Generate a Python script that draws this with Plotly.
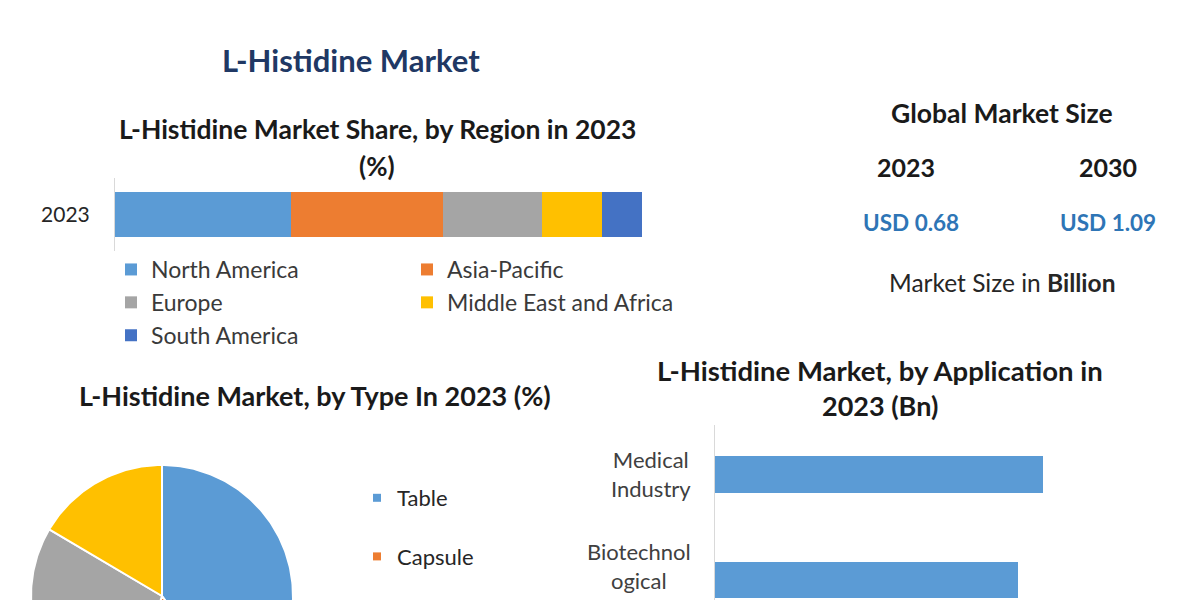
import math
import plotly.graph_objects as go

W, H = 1200, 600

# ---------------- data ----------------
region_year = ["2023"]
regions = ["North America", "Asia-Pacific", "Europe", "Middle East and Africa", "South America"]
region_share = [33.4, 28.8, 18.8, 11.4, 7.6]
region_colors = ["#5B9BD5", "#ED7D31", "#A5A5A5", "#FFC000", "#4472C4"]

types = ["Table", "Capsule", "Powder", "Others"]
type_share = [40.0, 15.0, 28.5, 16.5]
type_colors = ["#5B9BD5", "#ED7D31", "#A5A5A5", "#FFC000"]
type_legend_visible = [True, True, False, False]  # later entries fall below the crop

applications = ["Medical<br>Industry", "Biotechnol<br>ogical<br>Industry"]
app_values = [0.33, 0.305]

size_years = ["2023", "2030"]
size_values = [0.68, 1.09]


def px(x):
    return x / W


def py(y):
    return 1 - y / H


FONT = "Lato"
fig = go.Figure()

# ---------------- region stacked bar ----------------
for i, (name, val, col) in enumerate(zip(regions, region_share, region_colors)):
    fig.add_trace(go.Bar(
        y=region_year, x=[val], orientation="h", name=name,
        marker=dict(color=col, line=dict(width=0)),
        width=0.616,
        legend="legend" if i % 2 == 0 else "legend2",
        legendgroup=name,
        xaxis="x", yaxis="y", hoverinfo="x+name",
    ))

# ---------------- application bars ----------------
fig.add_trace(go.Bar(
    y=list(range(len(applications))), x=app_values, orientation="h",
    marker=dict(color="#5B9BD5", line=dict(width=0)),
    width=0.35, showlegend=False, xaxis="x2", yaxis="y2",
))

# ---------------- type pie (clipped by the page bottom) ----------------
R = 131
total = sum(type_share)
start = 90.0
for name, val, col in zip(types, type_share, type_colors):
    sweep = 360.0 * val / total
    n = max(8, int(sweep))
    xs, ys = [0.0], [0.0]
    for k in range(n + 1):
        a = math.radians(start - sweep * k / n)
        xs.append(R * math.cos(a))
        ys.append(R * math.sin(a))
    xs.append(0.0)
    ys.append(0.0)
    start -= sweep
    fig.add_trace(go.Scatter(
        x=xs, y=ys, mode="lines", fill="toself", fillcolor=col,
        line=dict(color="white", width=2), showlegend=False,
        legendgroup=name, name=name, xaxis="x3", yaxis="y3", hoverinfo="name",
    ))
for name, col, vis in zip(types, type_colors, type_legend_visible):
    if not vis:
        continue
    fig.add_trace(go.Scatter(
        x=[None], y=[None], mode="markers", name=name,
        marker=dict(symbol="square", size=8, color=col),
        legend="legend3", legendgroup=name, xaxis="x3", yaxis="y3",
    ))

hidden = dict(showgrid=False, zeroline=False, showticklabels=False, showline=False, ticks="")

fig.update_layout(
    width=W, height=H, autosize=False,
    margin=dict(l=0, r=0, t=0, b=0, pad=0),
    paper_bgcolor="white", plot_bgcolor="rgba(0,0,0,0)",
    font=dict(family=FONT, color="#262626"),
    barmode="stack",
    xaxis=dict(domain=[px(115), px(642)], range=[0, 100], **hidden),
    yaxis=dict(domain=[py(251), py(178)], type="category", showgrid=False, zeroline=False,
               showline=True, linecolor="#D9D9D9", linewidth=1, ticks="",
               ticklabelstandoff=20, tickfont=dict(size=21, color="#262626", family=FONT)),
    xaxis2=dict(domain=[px(715), px(1150)], range=[0, 435 / 993.9], anchor="y2", **hidden),
    yaxis2=dict(domain=[0, py(425)], range=[1.19, -0.469], anchor="x2",
                showgrid=False, zeroline=False, showticklabels=False, ticks="",
                showline=True, linecolor="#D9D9D9", linewidth=1),
    xaxis3=dict(domain=[0, px(360)], range=[-162, 198], anchor="y3", **hidden),
    yaxis3=dict(domain=[0, py(450)], range=[-4, 146], anchor="x3", **hidden),
    legend=dict(x=px(111), y=py(248), xanchor="left", yanchor="top", orientation="v",
                traceorder="grouped", tracegroupgap=0, bgcolor="rgba(0,0,0,0)",
                font=dict(size=23, color="#3A3A3A", family=FONT)),
    legend2=dict(x=px(407), y=py(248), xanchor="left", yanchor="top", orientation="v",
                 traceorder="grouped", tracegroupgap=0, bgcolor="rgba(0,0,0,0)",
                 font=dict(size=23, color="#3A3A3A", family=FONT)),
    legend3=dict(x=px(357), y=py(477), xanchor="left", yanchor="top", orientation="v",
                 traceorder="grouped", tracegroupgap=27, bgcolor="rgba(0,0,0,0)",
                 font=dict(size=22, color="#262626", family=FONT)),
)


def note(text, x, y, size, color="#1A1A1A", bold=True, xanchor="center"):
    fig.add_annotation(
        text=f"<b>{text}</b>" if bold else text,
        x=px(x), y=py(y), xref="paper", yref="paper",
        xanchor=xanchor, yanchor="middle", showarrow=False,
        font=dict(size=size, color=color, family=FONT),
    )


note("L-Histidine Market", 351, 60, 31, color="#203864")
note("L-Histidine Market Share, by Region in 2023", 377, 129, 26.5)
note("(%)", 377, 166, 26)
note("L-Histidine Market, by Type In 2023 (%)", 315, 395, 27)
note("L-Histidine Market, by Application in", 880, 370, 27.5)
note("2023 (Bn)", 880, 405, 27)

note("Global Market Size", 1002, 113, 26.5)
for yr, val, cx, cxv in zip(size_years, size_values, [906, 1108], [911, 1108]):
    note(yr, cx, 167, 25)
    note(f"USD {val:.2f}", cxv, 222, 22.5, color="#2E75B6")
note("Market Size in <b>Billion</b>", 1002, 282, 24.5, color="#262626", bold=False)

# application category labels, multi-line and centred like the source
for i, lab in enumerate(applications):
    fig.add_annotation(
        text=lab, x=px(693), y=i, xref="paper", yref="y2",
        xanchor="right", yanchor="middle", align="center", showarrow=False,
        font=dict(size=22, color="#404040", family=FONT),
    )

fig.write_html("out.html")
